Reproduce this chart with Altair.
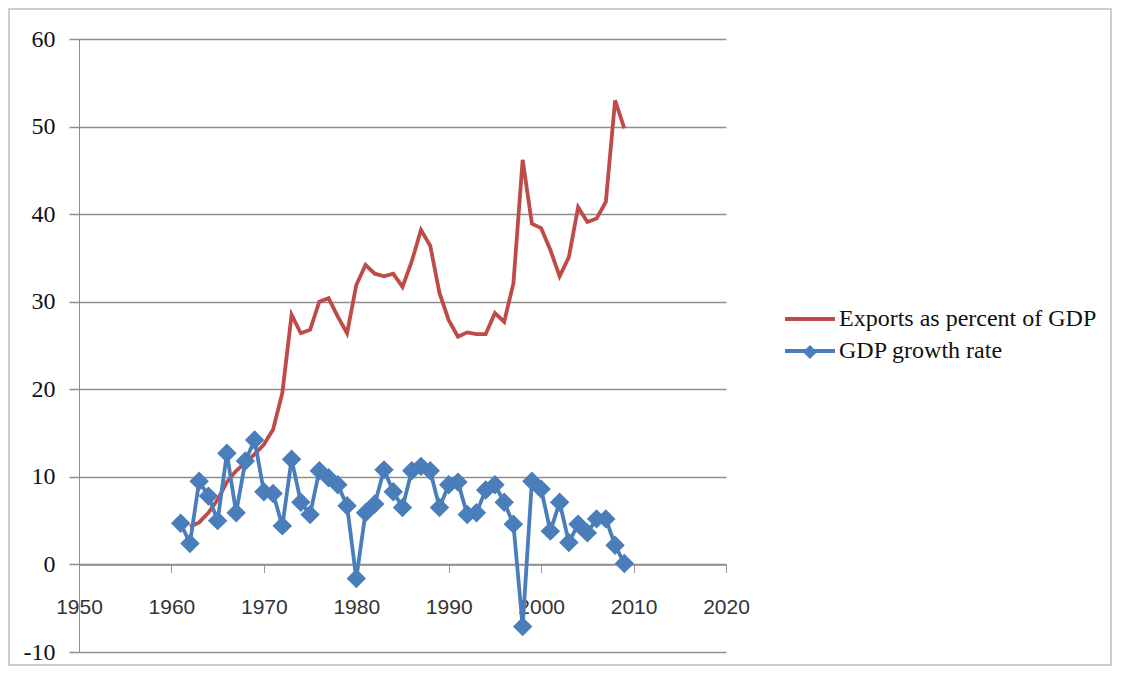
import altair as alt
import pandas as pd

# ---- data ----
years_gdp = list(range(1961, 2010))
gdp_growth = [4.7, 2.4, 9.5, 7.8, 5.0, 12.7, 5.9, 11.8, 14.2, 8.3,
              8.1, 4.4, 12.0, 7.1, 5.7, 10.7, 9.9, 9.1, 6.7, -1.6,
              5.9, 6.9, 10.8, 8.3, 6.5, 10.7, 11.2, 10.7, 6.5, 9.1,
              9.4, 5.7, 5.9, 8.5, 9.1, 7.1, 4.6, -7.1, 9.5, 8.6,
              3.8, 7.1, 2.5, 4.6, 3.6, 5.2, 5.2, 2.2, 0.1]
years_exp = list(range(1962, 2010))
exports_pct = [4.3, 4.8, 5.9, 7.4, 9.4, 10.7, 11.6, 12.6, 13.7, 15.4,
               19.6, 28.5, 26.4, 26.8, 30.0, 30.4, 28.3, 26.4, 31.9, 34.2,
               33.2, 32.9, 33.2, 31.7, 34.6, 38.2, 36.4, 31.0, 27.9, 26.0,
               26.5, 26.3, 26.3, 28.7, 27.7, 32.1, 46.2, 38.9, 38.4, 35.9,
               32.9, 35.1, 40.8, 39.1, 39.5, 41.4, 53.0, 49.8]
series_names = ["Exports as percent of GDP", "GDP growth rate"]
series_colors = ["#BE4B48", "#4A7EBB"]
x_ticks = [1950, 1960, 1970, 1980, 1990, 2000, 2010, 2020]
y_ticks = [-10, 0, 10, 20, 30, 40, 50, 60]

df_exp = pd.DataFrame({"year": years_exp, "value": exports_pct, "series": series_names[0]})
df_gdp = pd.DataFrame({"year": years_gdp, "value": gdp_growth, "series": series_names[1]})

W, H = 647, 613
GRID = "#8E8E8E"
RED, BLUE = series_colors

x_enc = alt.X(
    "year:Q",
    scale=alt.Scale(domain=[1950, 2020], nice=False, zero=False),
    axis=alt.Axis(values=x_ticks, format="d", title=None, grid=False,
                  offset=-H * 10 / 70, tickSize=8, tickColor="#A89090", tickWidth=1,
                  labelPadding=24, labelFont="Liberation Sans", labelFontSize=21,
                  labelColor="#333333", labelFlush=False,
                  domainColor=GRID, domainWidth=1.5),
)
y_enc = alt.Y(
    "value:Q",
    scale=alt.Scale(domain=[-10, 60], nice=False, zero=False),
    axis=alt.Axis(values=y_ticks, title=None, grid=True, gridColor=GRID, gridWidth=1.5,
                  tickSize=10, tickColor=GRID, tickWidth=1.5,
                  labelExpr="'' + datum.value",
                  labelPadding=14, labelFont="Liberation Serif", labelFontSize=24,
                  labelColor="#111111", domainColor=GRID, domainWidth=1),
)
color_enc = alt.Color(
    "series:N",
    scale=alt.Scale(domain=series_names, range=series_colors),
    legend=alt.Legend(orient="none", legendX=719, legendY=268, title=None,
                      symbolType="M-2.5,0L2.5,0", symbolSize=400, symbolStrokeWidth=4,
                      labelFont="Liberation Serif", labelFontSize=24, labelColor="#111111",
                      labelOffset=17, rowPadding=8, padding=0, labelLimit=400),
)

red_line = alt.Chart(df_exp).mark_line(strokeWidth=3.8).encode(x=x_enc, y=y_enc, color=color_enc)
blue_line = alt.Chart(df_gdp).mark_line(strokeWidth=3.8).encode(x=x_enc, y=y_enc, color=color_enc)
blue_pts = alt.Chart(df_gdp).mark_point(filled=True, fill=BLUE, stroke=BLUE, strokeWidth=1.5,
                                        size=300, opacity=1).encode(
    x=x_enc, y=y_enc,
    shape=alt.Shape("series:N",
                    scale=alt.Scale(domain=[series_names[1]], range=["diamond"]),
                    legend=alt.Legend(orient="none", legendX=723, legendY=305, title=None,
                                      labelExpr="''", symbolFillColor=BLUE,
                                      symbolStrokeColor=BLUE, symbolSize=200,
                                      symbolStrokeWidth=1, padding=0)),
)

frame = alt.Chart(pd.DataFrame({"k": [0]})).mark_rect(
    filled=False, stroke="#BFBFBF", strokeWidth=1.5
).encode(x=alt.value(-70), x2=alt.value(1032), y=alt.value(-30), y2=alt.value(626))

chart = alt.layer(frame, red_line, blue_line, blue_pts).properties(
    width=W, height=H,
    padding={"left": 71, "top": 31, "right": 387, "bottom": 16},
    autosize=alt.AutoSizeParams(type="none"),
    background="white",
).configure_view(stroke="transparent")

chart.save("out.html", embed_options={"renderer": "svg", "actions": False})
